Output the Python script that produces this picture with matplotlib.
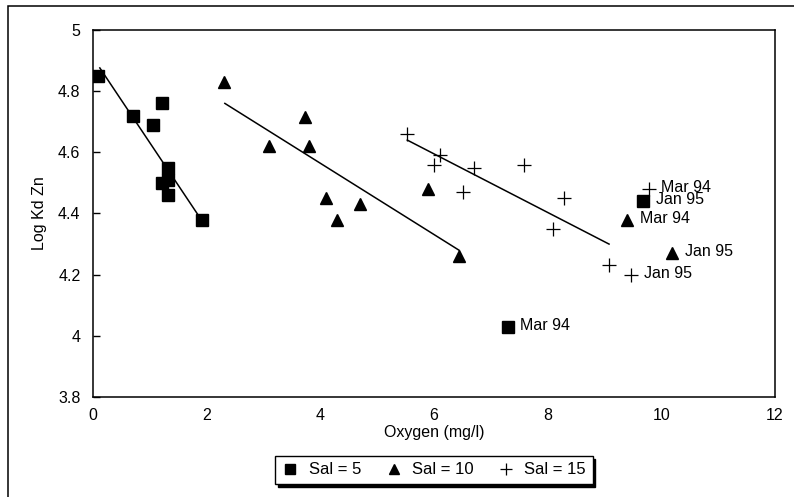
import matplotlib
matplotlib.use("Agg")
import matplotlib.pyplot as plt
from matplotlib.patches import Rectangle

plt.rcParams['font.family'] = ['Liberation Sans', 'DejaVu Sans']

# Sal = 5
sal5_x = [0.09, 0.70, 1.06, 1.21, 1.32, 1.21, 1.32, 1.32, 1.92, 7.30, 9.68]
sal5_y = [4.85, 4.72, 4.69, 4.76, 4.55, 4.50, 4.51, 4.46, 4.38, 4.03, 4.44]
# Sal = 10
sal10_x = [2.31, 3.10, 3.73, 3.80, 4.10, 4.29, 4.70, 5.89, 6.44, 9.40, 10.19]
sal10_y = [4.83, 4.62, 4.715, 4.62, 4.45, 4.38, 4.43, 4.48, 4.26, 4.38, 4.27]
# Sal = 15
sal15_x = [5.53, 6.11, 6.00, 6.70, 6.51, 7.58, 8.29, 8.09, 9.08, 9.78, 9.47]
sal15_y = [4.66, 4.59, 4.56, 4.55, 4.47, 4.56, 4.45, 4.35, 4.23, 4.48, 4.20]

# fitted lines (end points)
fit5_x, fit5_y = [0.12, 1.94], [4.876, 4.37]
fit10_x, fit10_y = [2.32, 6.44], [4.76, 4.28]
fit15_x, fit15_y = [5.53, 9.08], [4.64, 4.30]

# labelled points: (x, y, text)
labels = [
    (7.30, 4.03, "Mar 94"),
    (9.68, 4.44, "Jan 95"),
    (9.40, 4.38, "Mar 94"),
    (10.19, 4.27, "Jan 95"),
    (9.78, 4.48, "Mar 94"),
    (9.47, 4.20, "Jan 95"),
]

x_ticks = [0, 2, 4, 6, 8, 10, 12]
y_ticks = [3.8, 4, 4.2, 4.4, 4.6, 4.8, 5]

fig = plt.figure(figsize=(7.94, 4.97), dpi=100)
ax = fig.add_axes([93 / 794, 1 - 397 / 497, (775 - 93) / 794, (397 - 30) / 497])

ax.plot(sal5_x, sal5_y, ls='none', marker='s', ms=8, color='k', label='Sal = 5')
ax.plot(sal10_x, sal10_y, ls='none', marker='^', ms=8, color='k', label='Sal = 10')
ax.plot(sal15_x, sal15_y, ls='none', marker='+', ms=10, mew=0.9, color='k', label='Sal = 15')

for fx, fy in [(fit5_x, fit5_y), (fit10_x, fit10_y), (fit15_x, fit15_y)]:
    ax.plot(fx, fy, color='k', lw=1.1)

for px, py, txt in labels:
    ax.annotate(txt, (px, py), xytext=(9, 1), textcoords='offset points',
                ha='left', va='center', fontsize=11.5)

ax.set_xlim(0, 12)
ax.set_ylim(3.8, 5)
ax.set_xticks(x_ticks)
ax.set_xticklabels([str(v) for v in x_ticks])
ax.set_yticks(y_ticks)
ax.set_yticklabels(['3.8', '4', '4.2', '4.4', '4.6', '4.8', '5'])
ax.tick_params(axis='y', direction='in', length=5, width=1, pad=9, labelsize=11.5)
ax.tick_params(axis='x', length=0, pad=8, labelsize=11.5)
ax.set_xlabel('Oxygen (mg/l)', fontsize=11.5, labelpad=1)
ax.set_ylabel('Log Kd Zn', fontsize=11.5, labelpad=8)
for sp in ax.spines.values():
    sp.set_linewidth(1.1)

leg = fig.legend(loc='center', bbox_to_anchor=(434 / 794, 1 - 470 / 497), ncol=3,
                 fontsize=12, frameon=True, fancybox=False, handletextpad=0.6,
                 columnspacing=1.45, borderpad=0.4, handlelength=1.0, markerscale=0.85,
                 shadow={'color': 'black', 'alpha': 1, 'ox': 2, 'oy': -2})
leg.get_frame().set_edgecolor('black')
leg.get_frame().set_linewidth(1.0)

# outer frame around the whole figure (cut off at right and bottom)
fig.add_artist(Rectangle((8 / 794, -0.2), 1.2, 1.2 - 6 / 497, transform=fig.transFigure,
                         fill=False, edgecolor='black', lw=1.1, clip_on=False))

fig.savefig('out.png', dpi=100)
